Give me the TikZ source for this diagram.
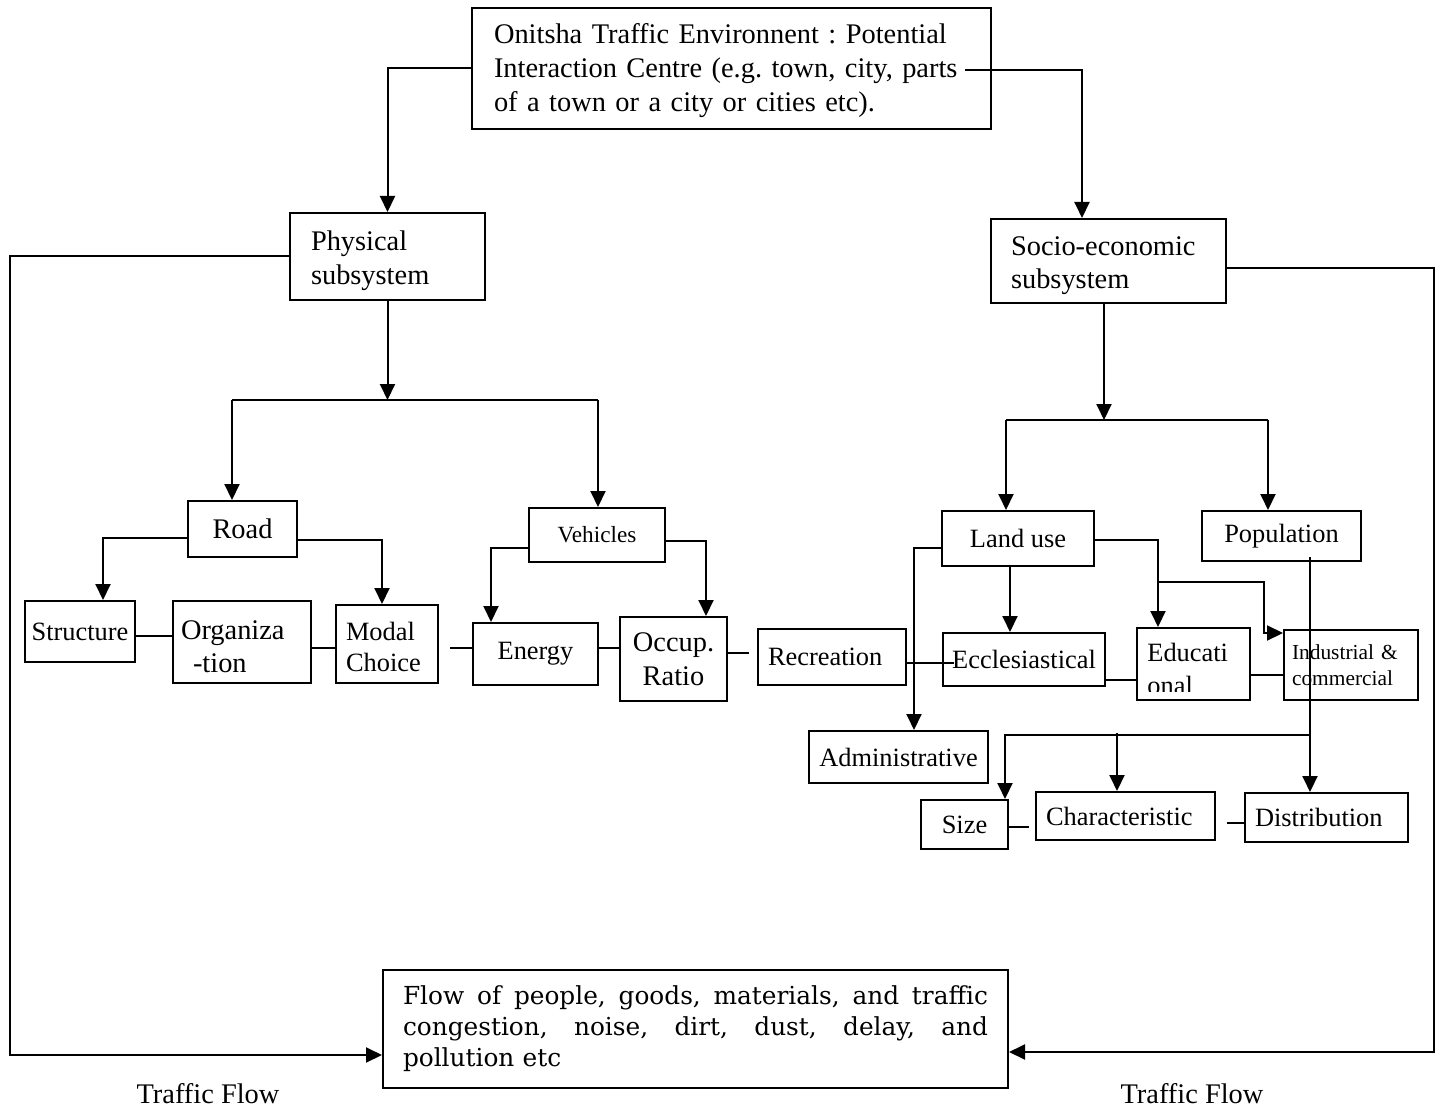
\documentclass[tikz,border=0pt]{standalone}
\usepackage{fontspec}
\setmainfont{Liberation Serif}
\newfontfamily\schfont{DejaVu Serif}
\usetikzlibrary{arrows.meta,calc}
\newcommand\FBig{\fontsize{14.2}{16.8}\selectfont}
\newcommand\FNorm{\fontsize{13.2}{15.5}\selectfont}
\newcommand\FSm{\fontsize{11.6}{14}\selectfont}
\newcommand\FTiny{\fontsize{10.7}{13}\selectfont}
\newcommand\FSch{\schfont\fontsize{12.4}{15.5}\selectfont}
\newcommand\FLab{\fontsize{14.2}{16}\selectfont}
\newcommand\JLine[1]{\leavevmode\hbox to 292.5pt{#1}}
\frenchspacing
\tikzset{
  box/.style={draw, line width=1pt, inner sep=0pt, align=center},
  arr/.style={line width=1pt, -{Triangle[width=7.5pt,length=8pt]}},
  lnk/.style={line width=0.8pt},
}
\begin{document}
\begin{tikzpicture}[x=0.5pt,y=-0.5pt]
\useasboundingbox (0,0) rectangle (1440,1107);
% nodes
\node[box, minimum width=259.5pt, minimum height=60.5pt, text width=237.5pt, align=left, font=\FBig] (top) at (731.5,68.5)
  {\rule{0pt}{12pt}Onitsha Traffic Environnent : Potential\\Interaction Centre (e.g. town, city, parts\\of a town or a city or cities etc).};
\node[box, minimum width=97.5pt, minimum height=43.5pt, text width=76.5pt, align=left, font=\FBig] (phys) at (387.5,256.5) {\rule{0pt}{14pt}Physical\\subsystem};
\node[box, minimum width=117.5pt, minimum height=42pt, text width=97.5pt, align=left, font=\FBig] (socio) at (1108.5,261) {\rule{0pt}{14pt}Socio-economic\\subsystem};
\node[box, minimum width=54.5pt, minimum height=28pt, font=\FBig] (road) at (242.5,529) {Road};
\node[box, minimum width=68pt, minimum height=27pt, font=\FSm] (veh) at (597,535) {Vehicles};
\node[box, minimum width=55pt, minimum height=30.5pt, font=\FNorm] (struct) at (80,631.5) {Structure};
\node[box, minimum width=69pt, minimum height=41pt, text width=61pt, align=left, font=\FBig] (org) at (242,642) {\rule{0pt}{14pt}Organiza\\\hspace*{6pt}-tion};
\node[box, minimum width=51pt, minimum height=39pt, text width=41pt, align=left, font=\FNorm] (modal) at (387,644) {\rule{0pt}{12pt}Modal\\Choice};
\node[box, minimum width=62.5pt, minimum height=31pt, font=\FNorm] (energy) at (535.5,654) {Energy};
\node[box, minimum width=53.5pt, minimum height=42pt, font=\FBig] (occup) at (673.5,659) {Occup.\\Ratio};
\node[box, minimum width=74pt, minimum height=28pt, text width=64pt, align=left, font=\FNorm] (rec) at (832,657) {Recreation};
\node[box, minimum width=76pt, minimum height=27.5pt, font=\FNorm] (land) at (1018,538.5) {Land use};
\node[box, minimum width=79.5pt, minimum height=25pt, font=\FNorm] (pop) at (1281.5,536) {Population};
\node[box, minimum width=81pt, minimum height=26.5pt, font=\FNorm] (eccl) at (1024,659.5) {Ecclesiastical};
\node[box, minimum width=56.5pt, minimum height=36pt] (educ) at (1193.5,664) {};
\begin{scope}
  \clip (1137,628) rectangle (1250,691);
  \node[anchor=west, align=left, inner sep=0pt, font=\fontsize{13.2}{16.5}\selectfont] (educt) at (1147,669) {Educati\\onal};
\end{scope}
\node[box, minimum width=67pt, minimum height=35pt, text width=59pt, align=left, font=\FTiny] (ind) at (1351,665) {Industrial \&\\commercial};
\node[box, minimum width=89.5pt, minimum height=26pt, font=\FNorm] (admin) at (898.5,757) {Administrative};
\node[box, minimum width=43.5pt, minimum height=24.5pt, font=\FNorm] (size) at (964.5,824.5) {Size};
\node[box, minimum width=89.5pt, minimum height=24pt, text width=79.5pt, align=left, font=\FNorm] (charac) at (1125.5,816) {Characteristic};
\node[box, minimum width=81.5pt, minimum height=24.5pt, text width=71.5pt, align=left, font=\FNorm] (distrib) at (1326.5,817.5) {Distribution};
\node[box, minimum width=312.5pt, minimum height=59pt, text width=292.5pt, align=left, font=\FSch] (bot) at (695.5,1029)
  {\JLine{Flow\hfill of\hfill people,\hfill goods,\hfill materials,\hfill and\hfill traffic}\\
   \JLine{congestion,\hfill noise,\hfill dirt,\hfill dust,\hfill delay,\hfill and}\\
   pollution etc};
\node[font=\FLab] (tfl) at (208,1094) {Traffic Flow};
\node[font=\FLab] (tfr) at (1192,1094) {Traffic Flow};
% connectors from top
\draw[arr] (top.west) -| (phys.north);
\draw[arr] ($(top.east)+(-27,1.5)$) -| ($(socio.north)+(-26.5,0)$);
% feedback loops
\draw[arr] (phys.west) -| (10,1055) -- ($(bot.west)+(0,26)$);
\draw[arr] ($(socio.east)+(0,7)$) -| (1434,1052) -- ($(bot.east)+(0,23)$);
% physical subsystem tree
\coordinate (pj) at (387.5,400);
\coordinate (pl) at (232,400);
\coordinate (pr) at (598,400);
\draw[arr] (phys.south) -- (pj);
\draw[line width=1pt] (pl) -- (pr);
\draw[arr] (pl) -- (pl |- road.north);
\draw[arr] (pr) -- (pr |- veh.north);
\draw[arr] ($(road.west)+(0,9)$) -| ($(struct.north)+(23,0)$);
\draw[arr] ($(road.east)+(0,11)$) -| ($(modal.north)+(-5,0)$);
\draw[arr] ($(veh.west)+(0,13)$) -| ($(energy.north)+(-44.5,0)$);
\draw[arr] ($(veh.east)+(0,6)$) -| ($(occup.north)+(32.5,0)$);
% socio-economic tree
\coordinate (sj) at (1104,420);
\coordinate (sl) at (1006,420);
\coordinate (sr) at (1268,420);
\draw[arr] ($(socio.south)+(-4.5,0)$) -- (sj);
\draw[line width=1pt] (sl) -- (sr);
\draw[arr] (sl) -- (sl |- land.north);
\draw[arr] (sr) -- (sr |- pop.north);
\draw[arr] ($(land.west)+(0,9.5)$) -| ($(admin.north)+(15.5,0)$);
\draw[arr] ($(land.south)+(-8,0)$) -- ($(eccl.north)+(-14,0)$);
\draw[arr] ($(land.east)+(0,1.5)$) -| ($(educ.north)+(-35.5,0)$);
\coordinate (lb) at (1158,582);
\draw[arr] (lb) -| ($(ind.west)+(-19,-32)$) -- ($(ind.west)+(0,-32)$);
\draw[arr] ($(pop.south)+(28.5,-5)$) -- ($(distrib.north)+(-16.5,0)$);
\coordinate (pb) at (1310,735);
\draw[arr] (pb) -| ($(size.north)+(40.5,0)$);
\coordinate (cb) at (1117,733);
\draw[arr] (cb) -- ($(charac.north)+(-8.5,0)$);
% thin links
\draw[lnk] ($(struct.east)+(0,4.5)$) -- ($(org.west)+(0,-6)$);
\draw[lnk] ($(org.east)+(0,6)$) -- ($(modal.west)+(0,4)$);
\draw[lnk] ($(modal.east)+(11,4)$) -- ($(energy.west)+(0,-6)$);
\draw[lnk] ($(energy.east)+(0,-6)$) -- ($(occup.west)+(0,-11)$);
\draw[lnk] ($(occup.east)+(0,-6)$) -- ($(rec.west)+(-8,-4)$);
\draw[lnk] ($(rec.east)+(0,6)$) -- ($(eccl.west)+(12,3.5)$);
\draw[lnk] ($(eccl.east)+(0,20.5)$) -- ($(educ.west)+(0,16)$);
\draw[lnk] ($(educ.east)+(-2,11)$) -- ($(ind.west)+(0,10)$);
\draw[lnk] ($(size.east)+(0,2.5)$) -- ($(charac.west)+(-6,11)$);
\draw[lnk] ($(charac.east)+(11,7)$) -- ($(distrib.west)+(0,5.5)$);
\end{tikzpicture}
\end{document}
